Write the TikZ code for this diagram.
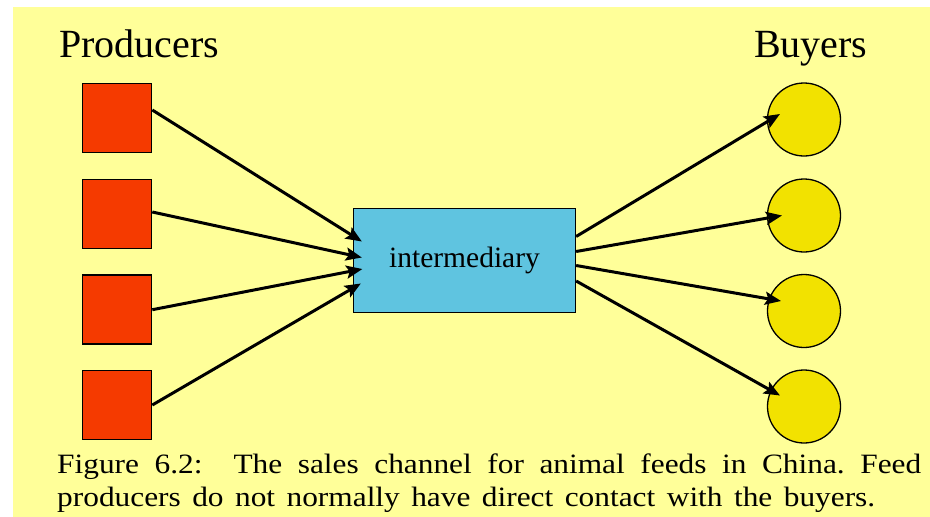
\documentclass[tikz,border=0pt]{standalone}
\usepackage{fontspec}
\setmainfont{Liberation Serif}
\newfontfamily\capfont[FakeStretch=1.12]{Liberation Serif}
\usetikzlibrary{arrows.meta}
\definecolor{bgyellow}{RGB}{255,255,153}
\definecolor{prodred}{RGB}{245,58,0}
\definecolor{buyyellow}{RGB}{242,226,0}
\definecolor{midblue}{RGB}{95,196,224}
\tikzset{
  prodbox/.style={draw=black, line width=1.6pt, fill=prodred, minimum width=69pt, minimum height=69pt, inner sep=0pt},
  buyer/.style={circle, draw=black, line width=1.3pt, fill=buyyellow, minimum size=73pt, inner sep=0pt},
  midbox/.style={draw=black, line width=1.3pt, fill=midblue, minimum width=222pt, minimum height=104pt, inner sep=0pt, font=\fontsize{29.5}{34}\selectfont},
  title/.style={anchor=base west, inner sep=0pt, font=\fontsize{40}{46}\selectfont},
  capline/.style={anchor=base west, inner sep=0pt, font=\capfont\fontsize{28}{32}\selectfont\frenchspacing},
  arr/.style={line width=3pt, -{Stealth[length=16pt, width=13pt, inset=3pt]}}
}
\begin{document}
\begin{tikzpicture}[x=1pt, y=-1pt]
\useasboundingbox (0,0) rectangle (930,517);
\fill[white] (0,0) rectangle (930,517);
\fill[bgyellow] (13,7) rectangle (930,517);

\node[title] (tp) at (59,57) {Producers};
\node[title] (tb) at (754,57) {Buyers};

\node[prodbox] (p1) at (117,118) {};
\node[prodbox] (p2) at (117,214) {};
\node[prodbox] (p3) at (117,309.7) {};
\node[prodbox] (p4) at (117,405) {};

\node[midbox] (mid) at (464.5,260.5) {intermediary};

\node[buyer] (c1) at (804,119.5) {};
\node[buyer] (c2) at (804,215.5) {};
\node[buyer] (c3) at (804,311) {};
\node[buyer] (c4) at (804,406.5) {};

\draw[arr] ([yshift=8pt]p1.east) -- ([xshift=9pt,yshift=19pt]mid.west);
\draw[arr] ([yshift=2pt]p2.east) -- ([xshift=9pt,yshift=3pt]mid.west);
\draw[arr] (p3.east) -- ([xshift=9.5pt,yshift=-8.5pt]mid.west);
\draw[arr] (p4.east) -- ([xshift=8pt,yshift=-23pt]mid.west);

\draw[arr] ([yshift=24pt]mid.east) -- ([xshift=-24pt,yshift=5.5pt]c1.center);
\draw[arr] ([yshift=9pt]mid.east) -- ([xshift=-22pt]c2.center);
\draw[arr] ([yshift=-5pt]mid.east) -- ([xshift=-23pt,yshift=10pt]c3.center);
\draw[arr] ([yshift=-20.5pt]mid.east) -- ([xshift=-24pt,yshift=11pt]c4.center);

\node[capline] (cap1) at (57,473) {\makebox[864pt][s]{Figure 6.2:\ \ The sales channel for animal feeds in China. Feed}};
\node[capline] (cap2) at (57,506) {\makebox[818pt][s]{producers do not normally have direct contact with the buyers.}};
\end{tikzpicture}
\end{document}
